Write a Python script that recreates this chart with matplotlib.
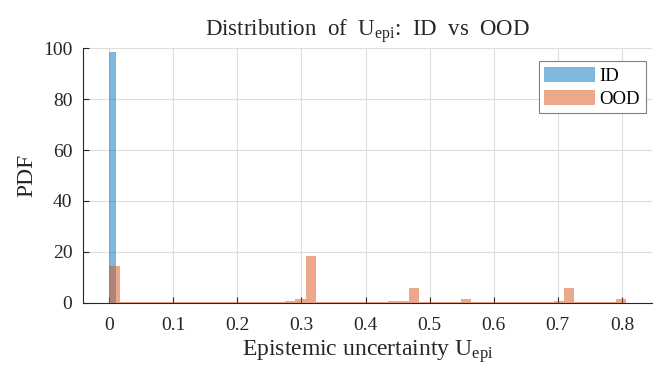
import numpy as np
import matplotlib
matplotlib.use("Agg")
import matplotlib.pyplot as plt

# ---- data ----
id_edges = [0.0, 0.0101]
id_density = [98.4]

ood_start = 0.0003
ood_binwidth = 0.01612
ood_density = [14.4, 0.4, 0.2, 0.1, 0.1, 0.1, 0.1, 0.1, 0.1, 0.1,
               0.1, 0.1, 0.1, 0.2, 0.3, 0.3, 0.4, 0.8, 1.6, 18.5,
               0.2, 0.1, 0.1, 0.2, 0.2, 0.4, 0.4, 0.5, 0.8, 5.7,
               0.1, 0.1, 0.2, 0.4, 1.45, 0.1, 0.1, 0.1, 0.1, 0.1,
               0.1, 0.2, 0.3, 0.6, 5.9, 0.1, 0.1, 0.1, 0.1, 1.6]
ood_edges = ood_start + ood_binwidth * np.arange(len(ood_density) + 1)

xticks = [0, 0.1, 0.2, 0.3, 0.4, 0.5, 0.6, 0.7, 0.8]
xticklabels = ["0", "0.1", "0.2", "0.3", "0.4", "0.5", "0.6", "0.7", "0.8"]
yticks = [0, 20, 40, 60, 80, 100]

# ---- style ----
plt.rcParams['font.family'] = ['Liberation Serif', 'DejaVu Serif']
plt.rcParams['mathtext.fontset'] = 'custom'
plt.rcParams['mathtext.rm'] = 'Liberation Serif'
plt.rcParams['mathtext.it'] = 'Liberation Serif'

blue = (0.0, 0.447, 0.741)
orange = (0.85, 0.325, 0.098)
txt = (0.15, 0.15, 0.15)

fig = plt.figure(figsize=(6.69, 3.83), dpi=100)
ax = fig.add_axes([0.1248, 0.2097, 0.8498, 0.6642])

ax.hist(id_edges[:-1], bins=id_edges, weights=id_density, color=blue,
        alpha=0.5, edgecolor='none', label='ID')
ax.hist(ood_edges[:-1], bins=ood_edges, weights=ood_density, color=orange,
        alpha=0.5, edgecolor='none', label='OOD')

ax.set_xlim(-0.040, 0.847)
ax.set_ylim(0, 100)
ax.set_xticks(xticks)
ax.set_xticklabels(xticklabels)
ax.set_yticks(yticks)
ax.tick_params(direction='in', length=4, width=0.8, colors=txt,
               labelsize=14)
ax.tick_params(axis='x', pad=10)
ax.tick_params(axis='y', pad=8)
for s in ['top', 'right']:
    ax.spines[s].set_visible(False)
for s in ['left', 'bottom']:
    ax.spines[s].set_color(txt)
    ax.spines[s].set_linewidth(0.8)
ax.grid(True, color=(0.87, 0.87, 0.87), linewidth=0.8)
ax.set_axisbelow(True)

ax.set_xlabel(r'Epistemic uncertainty U$_{\mathrm{epi}}$', fontsize=17,
              color=txt, labelpad=3)
ax.set_ylabel('PDF', fontsize=17, color=txt, labelpad=4)
ax.set_title(r'Distribution  of  U$_{\mathrm{epi}}$:  ID  vs  OOD',
             fontsize=16.5, color=txt, pad=9)

leg = ax.legend(loc='upper right', bbox_to_anchor=(0.989, 0.950),
                borderaxespad=0, fontsize=13.5, fancybox=False,
                edgecolor=(0.5, 0.5, 0.5), framealpha=1,
                handlelength=2.7, handleheight=0.9, handletextpad=0.25,
                borderpad=0.3, labelspacing=0.25)
leg.get_frame().set_linewidth(0.8)

fig.savefig('out.png', dpi=100)
